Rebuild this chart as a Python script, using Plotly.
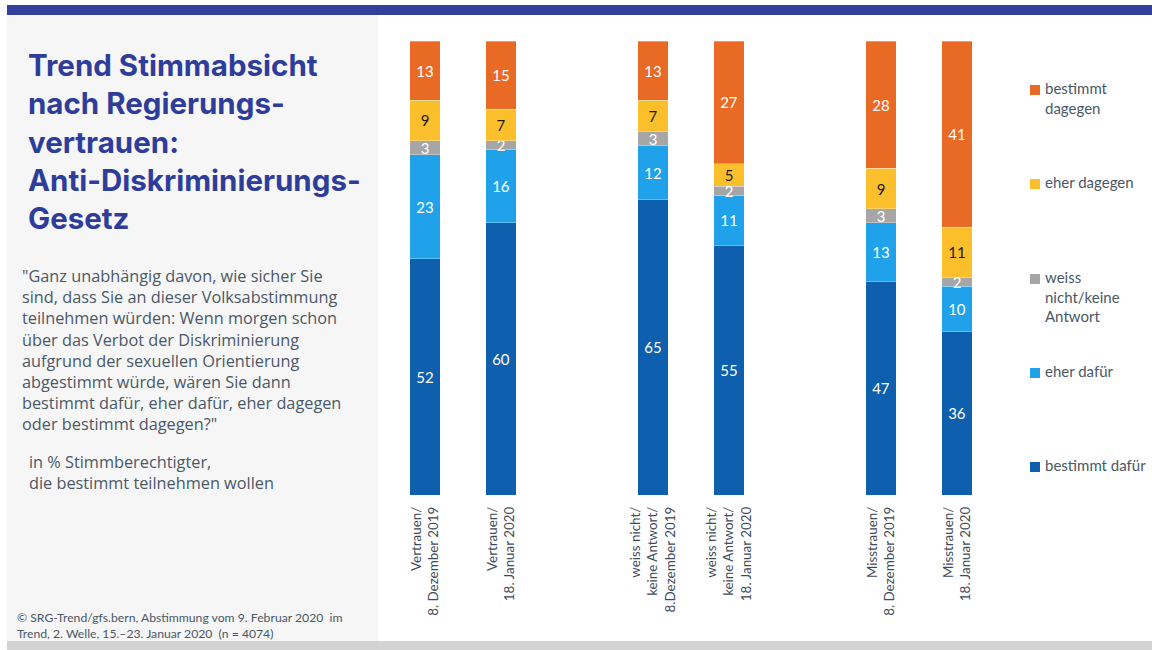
import plotly.graph_objects as go

# Bar positions (gaps between the three trust groups) and their labels
positions = [0, 1, 3, 4, 6, 7]
categories = [
    "Vertrauen/<br>8. Dezember 2019",
    "Vertrauen/<br>18. Januar 2020",
    "weiss nicht/<br>keine Antwort/<br>8.Dezember 2019",
    "weiss nicht/<br>keine Antwort/<br>18. Januar 2020",
    "Misstrauen/<br>8. Dezember 2019",
    "Misstrauen/<br>18. Januar 2020",
]

# Shares in % (stacked bottom to top)
bestimmt_dafuer = [52, 60, 65, 55, 47, 36]
eher_dafuer = [23, 16, 12, 11, 13, 10]
weiss_nicht = [3, 2, 3, 2, 3, 2]
eher_dagegen = [9, 7, 7, 5, 9, 11]
bestimmt_dagegen = [13, 15, 13, 27, 28, 41]

series = [
    ("bestimmt dafür", bestimmt_dafuer, "#0e5fae", "white"),
    ("eher dafür", eher_dafuer, "#1fa2ea", "white"),
    ("weiss nicht/keine Antwort", weiss_nicht, "#a6a6a6", "white"),
    ("eher dagegen", eher_dagegen, "#fbbf2c", "#1a1a1a"),
    ("bestimmt dagegen", bestimmt_dagegen, "#e96a24", "white"),
]

legend_items = [
    ("bestimmt<br>dagegen", "#e96a24", 90),
    ("eher dagegen", "#fbbf2c", 184),
    ("weiss<br>nicht/keine<br>Antwort", "#a6a6a6", 279),
    ("eher dafür", "#1fa2ea", 373),
    ("bestimmt dafür", "#0e5fae", 467),
]

title_lines = [
    "Trend Stimmabsicht",
    "nach Regierungs-",
    "vertrauen:",
    "Anti-Diskriminierungs-",
    "Gesetz",
]

question_lines = [
    "\"Ganz unabhängig davon, wie sicher Sie",
    "sind, dass Sie an dieser Volksabstimmung",
    "teilnehmen würden: Wenn morgen schon",
    "über das Verbot der Diskriminierung",
    "aufgrund der sexuellen Orientierung",
    "abgestimmt würde, wären Sie dann",
    "bestimmt dafür, eher dafür, eher dagegen",
    "oder bestimmt dagegen?\"",
]

base_lines = [
    "in % Stimmberechtigter,",
    "die bestimmt teilnehmen wollen",
]

W, H = 1152, 650
FONT = "Lato"
BODY_FONT = "Open Sans"
TEXT_GREY = "#4a5866"


def px(x):
    return x / W


def py(y):
    return 1 - y / H


def text_block(lines, x, ytop, font):
    return dict(text="<br>".join(lines), x=px(x), y=py(ytop), xref="paper", yref="paper",
                xanchor="left", yanchor="top", align="left", showarrow=False,
                font=font)


fig = go.Figure()
for name, vals, color, tcolor in series:
    fig.add_trace(go.Bar(
        x=positions, y=vals, name=name,
        marker=dict(color=color, line=dict(color="rgba(255,255,255,0.5)", width=0.6)),
        width=0.395,
        text=[str(v) for v in vals],
        textposition="inside",
        insidetextanchor="middle",
        textangle=0,
        textfont=dict(family=FONT, size=15, color=tcolor),
        showlegend=False,
        hoverinfo="skip",
    ))

shapes = [
    # top band
    dict(type="rect", xref="paper", yref="paper", x0=px(7), x1=1, y0=py(15), y1=py(5),
         fillcolor="#323f9b", line=dict(width=0), layer="below"),
    # left text panel
    dict(type="rect", xref="paper", yref="paper", x0=px(7), x1=px(378), y0=py(641), y1=py(15),
         fillcolor="#f6f6f6", line=dict(width=0), layer="below"),
    # bottom band
    dict(type="rect", xref="paper", yref="paper", x0=px(7), x1=1, y0=0, y1=py(641),
         fillcolor="#d3d3d3", line=dict(width=0), layer="below"),
]

annotations = [
    text_block(title_lines, 26, 45, dict(family="Inter", size=29.5, color="#2f3d9a", weight="bold")),
    text_block(question_lines, 20, 263, dict(family=BODY_FONT, size=16.3, color=TEXT_GREY)),
    text_block(base_lines, 27, 449, dict(family=BODY_FONT, size=16.3, color=TEXT_GREY)),
    dict(text="© SRG-Trend/gfs.bern, Abstimmung vom 9. Februar 2020  im<br>"
              "Trend, 2. Welle, 15.–23. Januar 2020  (n = 4074)",
         x=px(15), y=py(608), xref="paper", yref="paper", xanchor="left", yanchor="top",
         align="left", showarrow=False,
         font=dict(family=FONT, size=12.2, color=TEXT_GREY)),
]

for label, color, yc in legend_items:
    shapes.append(dict(type="rect", xref="paper", yref="paper",
                       x0=px(1030), x1=px(1040), y0=py(yc + 5), y1=py(yc - 5),
                       fillcolor=color, line=dict(width=0)))
    annotations.append(dict(text=label, x=px(1043), y=py(yc - 13), xref="paper", yref="paper",
                            xanchor="left", yanchor="top", align="left", showarrow=False,
                            font=dict(family=FONT, size=15, color=TEXT_GREY)))

fig.update_layout(
    width=W, height=H,
    margin=dict(l=0, r=0, t=0, b=0),
    paper_bgcolor="white", plot_bgcolor="white",
    barmode="stack",
    uniformtext=dict(minsize=15, mode="show"),
    shapes=shapes,
    annotations=annotations,
    xaxis=dict(
        domain=[px(387), px(995)], range=[-0.5, 7.5],
        tickmode="array", tickvals=positions, ticktext=categories,
        tickangle=-90, ticks="", showgrid=False, zeroline=False, showline=False,
        ticklabelstandoff=8, automargin=False,
        tickfont=dict(family=FONT, size=13.4, color="#3d4b59"),
    ),
    yaxis=dict(
        domain=[py(495), py(41)], range=[0, 100],
        visible=False, showgrid=False, zeroline=False,
    ),
)

fig.write_html("out.html")
